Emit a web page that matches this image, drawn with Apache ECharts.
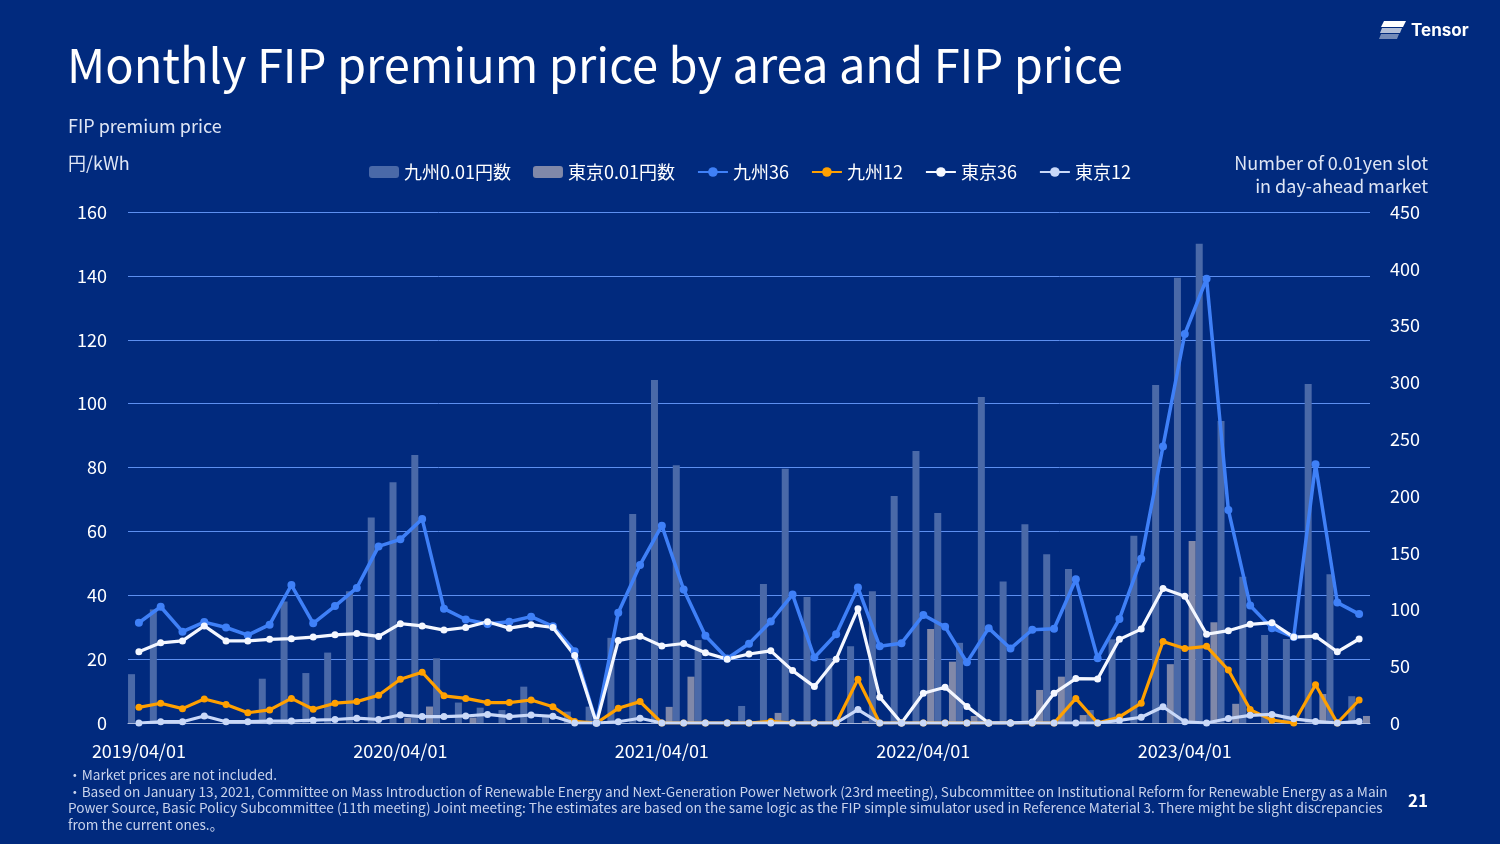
<!DOCTYPE html>
<html><head><meta charset="utf-8">
<script src="https://cdn.jsdelivr.net/npm/echarts@6/dist/echarts.min.js"></script>
<style>html,body{margin:0;padding:0;background:#012a7e;}#c{width:1500px;height:844px;}</style>
</head><body><div id="c"></div>
<script>
const categories = ['2019/04/01','2019/05/01','2019/06/01','2019/07/01','2019/08/01','2019/09/01','2019/10/01','2019/11/01','2019/12/01','2020/01/01','2020/02/01','2020/03/01',
'2020/04/01','2020/05/01','2020/06/01','2020/07/01','2020/08/01','2020/09/01','2020/10/01','2020/11/01','2020/12/01','2021/01/01','2021/02/01','2021/03/01',
'2021/04/01','2021/05/01','2021/06/01','2021/07/01','2021/08/01','2021/09/01','2021/10/01','2021/11/01','2021/12/01','2022/01/01','2022/02/01','2022/03/01',
'2022/04/01','2022/05/01','2022/06/01','2022/07/01','2022/08/01','2022/09/01','2022/10/01','2022/11/01','2022/12/01','2023/01/01','2023/02/01','2023/03/01',
'2023/04/01','2023/05/01','2023/06/01','2023/07/01','2023/08/01','2023/09/01','2023/10/01','2023/11/01','2023/12/01'];

const kyushuSlots = [43,100,0,0,0,0,39,107,44,62,116,181,
212,236,57,18,13.5,11.4,32,7,10,14.4,75,184,
302,227,73,0,15,122.5,224,111,57,67.6,116,200,
239.5,185,70.6,287,124.7,175,148.6,135.7,11.4,73.7,165,297.6,
392,422,266,128.7,77.5,74,298.6,131,23.6];
const tokyoSlots = [0,0,0,0,0,0,0,0,0,0,0,0,
4.7,14.5,0,4.8,0,0,0,0,0,0,0,0,
14.2,40.8,0,0,0,8.9,0,0,0,1.8,0,0,
82.8,54,6.2,0,0,29.1,40.8,7,0,0,0,51.8,
160.2,88.7,16.9,0,0,0,25.5,0,6.2];
const kyushu36 = [31.4,36.4,28.6,31.6,29.9,27.5,30.8,43.2,31.2,36.6,42.3,55.3,
57.5,63.9,35.8,32.4,31.0,31.7,33.3,30.3,22.5,0,34.5,49.5,
61.8,41.8,27.3,20.2,24.8,31.8,40.2,20.5,27.8,42.4,24.0,25.0,
33.8,30.1,19.0,29.7,23.3,29.2,29.5,45.0,20.3,32.6,51.4,86.6,
121.8,139.1,66.7,36.8,29.7,26.9,81.0,37.7,34.1];
const kyushu12 = [4.9,6.2,4.5,7.5,5.8,3.2,4.1,7.7,4.3,6.2,6.7,8.7,
13.7,15.9,8.5,7.7,6.4,6.4,7.2,5.1,0.5,0,4.6,6.7,
0,0,0,0,0,0.5,0,0,0,13.7,0,0,
0,0,0,0,0,0,0,7.7,0,1.9,6.2,25.5,
23.3,24.0,16.6,4.2,0.9,0,12.0,0,7.2];
const tokyo36 = [22.3,25.1,25.7,30.4,25.7,25.7,26.2,26.4,26.9,27.6,28.0,27.1,
31.1,30.4,29.1,29.9,31.7,29.7,30.8,29.9,21.1,0,25.8,27.2,
24.1,24.9,22.0,20.0,21.6,22.6,16.4,11.4,20.0,35.8,8.1,0,
9.3,11.2,5.2,0,0,0.3,9.3,13.9,13.8,26.2,29.4,42.1,
39.7,27.8,28.9,30.9,31.4,26.9,27.2,22.3,26.3];
const tokyo12 = [0,0.4,0.4,2.2,0.4,0.4,0.6,0.6,0.9,1.1,1.5,1.1,
2.5,2.0,2.0,2.2,2.7,2.0,2.5,2.1,0,0,0.4,1.5,
0,0,0,0,0,0,0,0,0,4.2,0,0,
0,0,0,0,0,0,0,0,0,0.8,1.8,5.1,
0.4,0,1.4,2.4,2.7,1.3,0.5,0,0.5];
const leftTicks = {min:0,max:160,interval:20};
const rightTicks = {min:0,max:450,interval:50};

const FONT = '"Noto Sans CJK JP","Noto Sans",sans-serif';
const chart = echarts.init(document.getElementById('c'));

function lineSeries(name, data, color, width, size){
  return {name, type:'line', yAxisIndex:0, data, symbol:'circle', symbolSize:size,
    lineStyle:{color, width}, itemStyle:{color}, z:3};
}

chart.setOption({
  backgroundColor:'#012a7e',
  animation:false,
  textStyle:{fontFamily:FONT},
  grid:{left:128,right:130,top:212,bottom:121},
  legend:{
    left:369, top:163, padding:0, itemWidth:30, itemHeight:12, itemGap:22,
    textStyle:{color:'#ffffff', fontSize:18, fontFamily:FONT},
    data:['九州0.01円数','東京0.01円数','九州36','九州12','東京36','東京12']
  },
  xAxis:{
    type:'category', data:categories, boundaryGap:true,
    axisLine:{show:true, lineStyle:{color:'#a9b8dc', width:1}},
    axisTick:{show:false},
    axisLabel:{color:'#ffffff', fontSize:18, margin:19, fontFamily:FONT,
      interval:function(i){return i%12===0;}},
    splitLine:{show:false}
  },
  yAxis:[
    {type:'value', min:leftTicks.min, max:leftTicks.max, interval:leftTicks.interval,
     axisLine:{show:false}, axisTick:{show:false},
     axisLabel:{color:'#ffffff', fontSize:18, margin:21, fontFamily:FONT},
     splitLine:{lineStyle:{color:'#5d8ff0', width:1}}},
    {type:'value', min:rightTicks.min, max:rightTicks.max, interval:rightTicks.interval,
     axisLine:{show:false}, axisTick:{show:false},
     axisLabel:{color:'#ffffff', fontSize:18, margin:20, fontFamily:FONT},
     splitLine:{show:false}}
  ],
  series:[
    {name:'九州0.01円数', type:'bar', yAxisIndex:1, data:kyushuSlots, barWidth:7, barGap:'110%',
     itemStyle:{color:'#4a69a8'}, z:1},
    {name:'東京0.01円数', type:'bar', yAxisIndex:1, data:tokyoSlots, barWidth:7, barGap:'110%',
     itemStyle:{color:'#8088a9'}, z:1},
    lineSeries('九州36', kyushu36, '#3f80f7', 3.5, 8),
    lineSeries('九州12', kyushu12, '#ffa000', 3.2, 7),
    lineSeries('東京36', tokyo36, '#f4f7ff', 3.2, 7),
    lineSeries('東京12', tokyo12, '#c9d8f8', 3.2, 7)
  ],
  graphic:[
    {type:'text', left:67, top:42, style:{text:'Monthly FIP premium price by area and FIP price', fill:'#ffffff', font:'47px '+FONT}},
    {type:'text', left:68, top:117, style:{text:'FIP premium price', fill:'#dfe6f5', font:'18px '+FONT}},
    {type:'text', left:68, top:154, style:{text:'円/kWh', fill:'#dfe6f5', font:'18px '+FONT}},
    {type:'text', right:72, top:154, style:{text:'Number of 0.01yen slot', fill:'#dfe6f5', font:'18px '+FONT, textAlign:'right'}},
    {type:'text', right:72, top:177, style:{text:'in day-ahead market', fill:'#dfe6f5', font:'18px '+FONT, textAlign:'right'}},
    {type:'text', left:68, top:768, style:{text:'・Market prices are not included.', fill:'#c9d3ec', font:'13.65px '+FONT}},
    {type:'text', left:68, top:785, style:{text:'・Based on January 13, 2021, Committee on Mass Introduction of Renewable Energy and Next-Generation Power Network (23rd meeting), Subcommittee on Institutional Reform for Renewable Energy as a Main', fill:'#c9d3ec', font:'13.65px '+FONT}},
    {type:'text', left:68, top:801, style:{text:'Power Source, Basic Policy Subcommittee (11th meeting) Joint meeting: The estimates are based on the same logic as the FIP simple simulator used in Reference Material 3. There might be slight discrepancies', fill:'#c9d3ec', font:'13.65px '+FONT}},
    {type:'text', left:68, top:818, style:{text:'from the current ones.。', fill:'#c9d3ec', font:'13.65px '+FONT}},
    {type:'text', left:1408, top:792, style:{text:'21', fill:'#ffffff', font:'bold 17px '+FONT}},
    {type:'polygon', shape:{points:[[1384,21],[1406,21],[1403,27],[1381,27]]}, style:{fill:'#ffffff'}},
    {type:'polygon', shape:{points:[[1382,28],[1402,28],[1400,33],[1380,33]]}, style:{fill:'rgba(255,255,255,0.7)'}},
    {type:'polygon', shape:{points:[[1381,34],[1399,34],[1397,39],[1379,39]]}, style:{fill:'rgba(255,255,255,0.45)'}},
    {type:'text', left:1411, top:22, style:{text:'Tensor', fill:'#ffffff', font:'bold 17px Inter, "Noto Sans", sans-serif'}}
  ]
});
</script></body></html>
